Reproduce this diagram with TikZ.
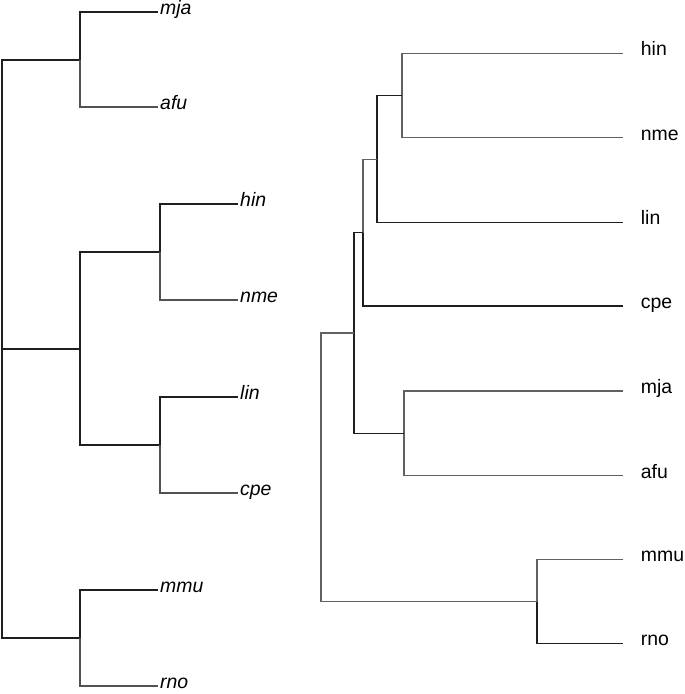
\documentclass[tikz,border=0pt]{standalone}
\usepackage{fontspec}
\setmainfont{Liberation Sans}
\begin{document}
\begin{tikzpicture}[x=1bp,y=-1bp,
  lblL/.style={anchor=mid west,inner xsep=2bp,inner ysep=0pt,font=\fontsize{19.5}{22}\selectfont\itshape},
  lblR/.style={anchor=mid west,inner xsep=18bp,inner ysep=0pt,font=\fontsize{19.5}{22}\selectfont},
  ln/.style={line width=1.4bp,black!88},
  lg/.style={line width=1.3bp,black!68},
  rn/.style={line width=1.2bp,black!88},
  rg/.style={line width=1.1bp,black!62}]
\useasboundingbox (0,0) rectangle (685,694);
% ---------- left tree ----------
\coordinate (LR) at (2,349);
\coordinate (LA) at (80,60);
\coordinate (LB) at (80,349);
\coordinate (LC) at (80,638);
\coordinate (LB1) at (160,252);
\coordinate (LB2) at (160,445);
\node[lblL] (Lmja) at (158,12) {mja};
\node[lblL] (Lafu) at (158,107) {afu};
\node[lblL] (Lhin) at (238,204) {hin};
\node[lblL] (Lnme) at (238,300) {nme};
\node[lblL] (Llin) at (238,397) {lin};
\node[lblL] (Lcpe) at (238,493) {cpe};
\node[lblL] (Lmmu) at (158,590) {mmu};
\node[lblL] (Lrno) at (158,686) {rno};
\draw[ln] (LA) -| (LR);
\draw[ln] (LR) |- (LC);
\draw[ln] (LR) -- (LB);
\draw[ln] (LB1) -| (LB) |- (LB2);
\draw[ln] (Lmja.mid west) -| (LA);
\draw[lg] (LA) |- (Lafu.mid west);
\draw[ln] (Lhin.mid west) -| (LB1);
\draw[lg] (LB1) |- (Lnme.mid west);
\draw[ln] (Llin.mid west) -| (LB2);
\draw[lg] (LB2) |- (Lcpe.mid west);
\draw[ln] (Lmmu.mid west) -| (LC);
\draw[lg] (LC) |- (Lrno.mid west);
% ---------- right tree ----------
\coordinate (R1) at (402,95.5);
\coordinate (R2) at (377,159.3);
\coordinate (R3) at (363,232.7);
\coordinate (R4) at (404,433.3);
\coordinate (R5) at (354,333);
\coordinate (R0) at (321,467);
\coordinate (R6) at (537,601.5);
\node[lblR] (Rhin) at (622.7,53.3) {hin};
\node[lblR] (Rnme) at (622.7,137.7) {nme};
\node[lblR] (Rlin) at (622.7,222.3) {lin};
\node[lblR] (Rcpe) at (622.7,306) {cpe};
\node[lblR] (Rmja) at (622.7,391) {mja};
\node[lblR] (Rafu) at (622.7,475.7) {afu};
\node[lblR] (Rmmu) at (622.7,559.3) {mmu};
\node[lblR] (Rrno) at (622.7,643.3) {rno};
\draw[rg] (Rhin.mid west) -| (R1) |- (Rnme.mid west);
\draw[rn] (R1) -| (R2);
\draw[rn] (R2) |- (Rlin.mid west);
\draw[rg] (R2) -| (R3);
\draw[rn] (R3) |- (Rcpe.mid west);
\draw[rg] (Rmja.mid west) -| (R4) |- (Rafu.mid west);
\draw[rn] (R3) -| (R5) |- (R4);
\draw[rg] (R5) -| (R0) |- (R6);
\draw[rg] (Rmmu.mid west) -| (R6);
\draw[rn] (R6) |- (Rrno.mid west);
\end{tikzpicture}
\end{document}
